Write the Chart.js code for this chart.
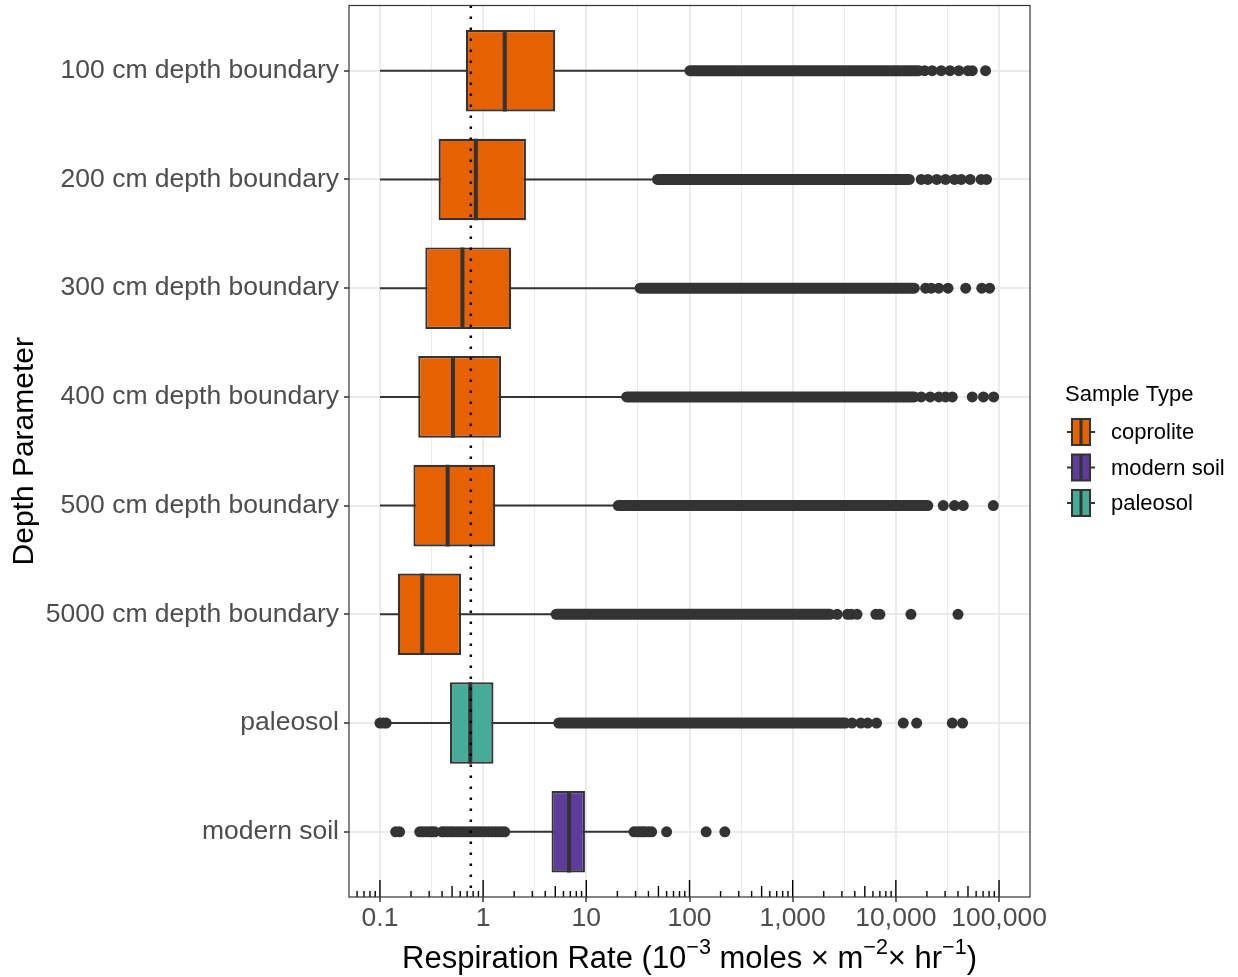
<!DOCTYPE html>
<html>
<head>
<meta charset="utf-8">
<title>Respiration rate by depth parameter</title>
<script src="https://cdn.jsdelivr.net/npm/chart.js@4.4.1/dist/chart.umd.min.js"></script>
<style>
  html, body { margin: 0; padding: 0; background: #ffffff; }
  #wrap { width: 1238px; height: 977px; }
</style>
</head>
<body>
<div id="wrap"><canvas id="boxChart" width="1238" height="977"></canvas></div>
<script>
// categories, top to bottom
const categories = [
  '100 cm depth boundary', '200 cm depth boundary', '300 cm depth boundary',
  '400 cm depth boundary', '500 cm depth boundary', '5000 cm depth boundary',
  'paleosol', 'modern soil'
];
const sampleTypes = ['coprolite', 'coprolite', 'coprolite', 'coprolite', 'coprolite', 'coprolite', 'paleosol', 'modern soil'];
const legendTypes = ['coprolite', 'modern soil', 'paleosol'];

// box statistics
const whiskerLow  = [0.1, 0.1, 0.1, 0.1, 0.1, 0.1, 0.12, 1.7];
const q1          = [0.68, 0.37, 0.275, 0.235, 0.211, 0.149, 0.476, 4.6];
const median      = [1.62, 0.85, 0.63, 0.51, 0.453, 0.257, 0.75, 6.8];
const q3          = [5.0, 2.6, 1.87, 1.49, 1.31, 0.61, 1.26, 9.7];
const whiskerHigh = [98, 48, 32, 24, 20, 5.0, 5.2, 27];

// outliers so dense they merge into a solid run: first and last value of the run
const denseStart = [101, 49, 33.2, 24.6, 20.4, 5.1, 5.4, null];
const denseEnd   = [16700, 13500, 15100, 15100, 20400, 2300, 3240, null];

// the separate outliers
const outliers = [
  [19000, 22500, 27500, 33500, 40800, 50000, 55000, 74000],
  [17600, 20400, 24900, 30300, 37000, 43000, 52500, 67000, 75700],
  [19400, 22000, 26000, 32000, 47500, 68000, 81000],
  [17600, 21500, 26100, 30300, 35200, 55000, 70600, 88700],
  [28800, 37000, 45000, 88000],
  [2700, 3400, 3700, 4200, 6400, 7000, 14000, 40000],
  [0.1, 0.108, 0.115, 3760, 4580, 5330, 6500, 11800, 15900, 35200, 44300],
  [0.142, 0.155, 0.243, 0.26, 0.28, 0.30, 0.32, 0.34, 0.40, 0.42, 0.45, 0.48, 0.51, 0.55,
   0.59, 0.63, 0.68, 0.73, 0.78, 0.84, 0.9, 0.97, 1.05, 1.13, 1.22, 1.32, 1.42, 1.52, 1.62,
   29, 31, 33, 35, 37, 40, 43, 60, 145, 220]
];

const referenceRate = 0.76;

const xMajorTicks = [0.1, 1, 10, 100, 1000, 10000, 100000];
const xTickLabels = ['0.1', '1', '10', '100', '1,000', '10,000', '100,000'];

const xTitleParts = [
  ['Respiration Rate (10', false], ['\u22123', true], [' moles \u00d7 m', false],
  ['\u22122', true], ['\u00d7 hr', false], ['\u22121', true], [')', false]
];

// styling
const typeColors = { 'coprolite': '#E66101', 'modern soil': '#5E3C99', 'paleosol': '#46AC98' };
const ink = '#333333';
const fontFamily = '"Liberation Sans", Arial, Helvetica, sans-serif';
const boxWidth = 0.75;

const rowY = i => i + 1;

const datasets = [];

// whiskers, drawn under the boxes
categories.forEach((c, i) => {
  datasets.push({
    type: 'line', order: 5,
    data: [{ x: whiskerLow[i], y: rowY(i) }, { x: whiskerHigh[i], y: rowY(i) }],
    borderColor: ink, borderWidth: 2, pointRadius: 0
  });
});

// boxes
datasets.push({
  type: 'bar', order: 4, indexAxis: 'y',
  data: categories.map((c, i) => ({ x: [q1[i], q3[i]], y: rowY(i) })),
  backgroundColor: sampleTypes.map(t => typeColors[t]),
  borderColor: ink, borderWidth: 2.2, borderSkipped: false,
  barPercentage: boxWidth, categoryPercentage: 1
});

// medians
categories.forEach((c, i) => {
  datasets.push({
    type: 'line', order: 3,
    data: [{ x: median[i], y: rowY(i) - boxWidth / 2 }, { x: median[i], y: rowY(i) + boxWidth / 2 }],
    borderColor: ink, borderWidth: 4, pointRadius: 0
  });
});

// dense outlier runs
categories.forEach((c, i) => {
  if (denseStart[i] === null) return;
  datasets.push({
    type: 'line', order: 2,
    data: [{ x: denseStart[i], y: rowY(i) }, { x: denseEnd[i], y: rowY(i) }],
    borderColor: ink, borderWidth: 11, borderCapStyle: 'round', pointRadius: 0
  });
});

// separate outliers
datasets.push({
  type: 'scatter', order: 1,
  data: outliers.flatMap((list, i) => list.map(v => ({ x: v, y: rowY(i) }))),
  backgroundColor: ink, borderWidth: 0, pointRadius: 5.5
});

// dotted reference line
datasets.push({
  type: 'line', order: 0,
  data: [{ x: referenceRate, y: 0.4 }, { x: referenceRate, y: categories.length + 0.6 }],
  borderColor: '#000000', borderWidth: 2.5, borderDash: [2.5, 8.5], pointRadius: 0
});

const decorPlugin = {
  id: 'decor',
  afterDatasetsDraw(chart) {
    const { ctx, chartArea: a, scales: { x } } = chart;
    ctx.save();
    // log ticks along the bottom of the panel
    ctx.strokeStyle = '#000000';
    ctx.lineWidth = 1.4;
    for (let e = -2; e <= 5; e++) {
      for (let k = 1; k <= 9; k++) {
        const v = k * Math.pow(10, e);
        if (v < x.min || v > x.max) continue;
        const px = x.getPixelForValue(v);
        const len = k === 1 ? 17 : (k === 5 ? 11 : 6);
        ctx.beginPath();
        ctx.moveTo(px, a.bottom);
        ctx.lineTo(px, a.bottom - len);
        ctx.stroke();
      }
    }
    // panel border
    ctx.strokeStyle = ink;
    ctx.lineWidth = 1.2;
    ctx.strokeRect(a.left, a.top, a.right - a.left, a.bottom - a.top);
    ctx.restore();
  },
  afterDraw(chart) {
    const { ctx, chartArea: a } = chart;
    ctx.save();
    ctx.fillStyle = '#000000';
    ctx.textBaseline = 'alphabetic';

    // x axis title with superscripts
    const mainFont = '31px ' + fontFamily;
    const supFont = '21.5px ' + fontFamily;
    let total = 0;
    xTitleParts.forEach(([t, sup]) => {
      ctx.font = sup ? supFont : mainFont;
      total += ctx.measureText(t).width;
    });
    let tx = (a.left + a.right) / 2 - total / 2;
    const baseY = 968;
    xTitleParts.forEach(([t, sup]) => {
      ctx.font = sup ? supFont : mainFont;
      ctx.fillText(t, tx, sup ? baseY - 14.5 : baseY);
      tx += ctx.measureText(t).width;
    });

    // legend
    ctx.font = '22px ' + fontFamily;
    ctx.textAlign = 'left';
    ctx.fillText('Sample Type', 1065, 401);
    legendTypes.forEach((t, i) => {
      const cy = 432 + i * 35.5;
      ctx.strokeStyle = ink;
      ctx.lineWidth = 2;
      ctx.beginPath();
      ctx.moveTo(1067, cy); ctx.lineTo(1095, cy);
      ctx.stroke();
      ctx.fillStyle = typeColors[t];
      ctx.fillRect(1072, cy - 13, 18, 26);
      ctx.strokeRect(1072, cy - 13, 18, 26);
      ctx.lineWidth = 3;
      ctx.beginPath();
      ctx.moveTo(1081, cy - 13); ctx.lineTo(1081, cy + 13);
      ctx.stroke();
      ctx.fillStyle = '#000000';
      ctx.textBaseline = 'middle';
      ctx.fillText(t, 1111, cy + 1);
      ctx.textBaseline = 'alphabetic';
    });
    ctx.restore();
  }
};

new Chart(document.getElementById('boxChart'), {
  data: { datasets: datasets },
  options: {
    responsive: false,
    devicePixelRatio: 1,
    animation: false,
    events: [],
    layout: { padding: { top: 5, right: 208, left: 0, bottom: 0 } },
    plugins: { legend: { display: false }, tooltip: { enabled: false } },
    scales: {
      x: {
        type: 'logarithmic',
        position: 'bottom',
        offset: false,
        min: Math.pow(10, -1.3),
        max: Math.pow(10, 5.3),
        border: { display: false },
        afterBuildTicks: scale => {
          const ticks = [];
          xMajorTicks.forEach((v, i) => {
            ticks.push({ value: v, major: true });
            if (i < xMajorTicks.length - 1) ticks.push({ value: Math.sqrt(v * xMajorTicks[i + 1]), major: false });
          });
          scale.ticks = ticks;
        },
        afterFit: scale => {
          scale.height = 80;
          scale.paddingLeft = 0;
          scale.paddingRight = 0;
        },
        grid: {
          offset: false,
          color: '#EBEBEB',
          lineWidth: ctx => (ctx.tick && ctx.tick.major ? 2 : 1),
          tickColor: ctx => (ctx.tick && ctx.tick.major ? ink : 'rgba(0,0,0,0)'),
          tickLength: 5,
          tickWidth: 1.5
        },
        ticks: {
          autoSkip: false,
          maxRotation: 0,
          padding: 3,
          color: '#4D4D4D',
          font: { size: 26.5, family: fontFamily, lineHeight: 1 },
          callback: value => {
            const i = xMajorTicks.indexOf(value);
            return i >= 0 ? xTickLabels[i] : '';
          }
        },
        title: { display: false }
      },
      y: {
        type: 'linear',
        position: 'left',
        reverse: true,
        offset: false,
        min: 0.4,
        max: categories.length + 0.6,
        border: { display: false },
        afterBuildTicks: scale => {
          scale.ticks = categories.map((c, i) => ({ value: rowY(i) }));
        },
        afterFit: scale => {
          scale.width = 349;
          scale.paddingTop = 0;
          scale.paddingBottom = 0;
        },
        grid: {
          offset: false,
          color: '#EBEBEB',
          lineWidth: 2,
          tickColor: ink,
          tickLength: 5,
          tickWidth: 1.5
        },
        ticks: {
          autoSkip: false,
          padding: 5,
          color: '#4D4D4D',
          font: { size: 26.5, family: fontFamily },
          callback: value => categories[value - 1]
        },
        title: {
          display: true,
          text: 'Depth Parameter',
          color: '#000000',
          font: { size: 30, family: fontFamily },
          padding: { top: 7, bottom: 0 }
        }
      }
    }
  },
  plugins: [decorPlugin]
});
</script>
</body>
</html>
